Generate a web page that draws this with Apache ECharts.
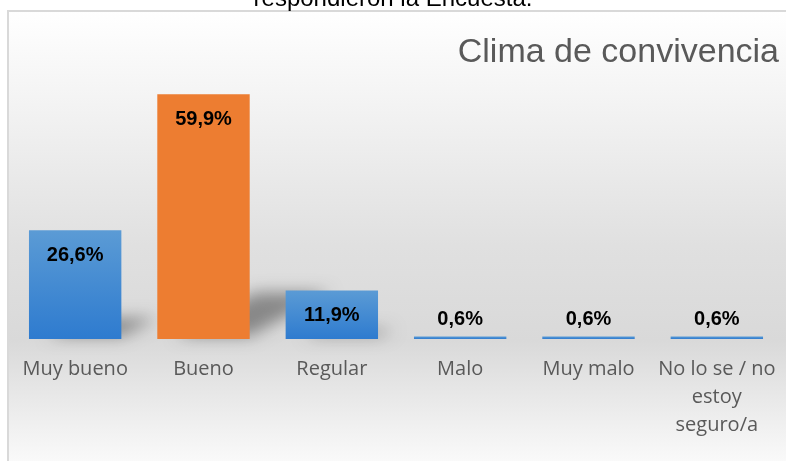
<!DOCTYPE html>
<html><head><meta charset="utf-8">
<script src="https://cdn.jsdelivr.net/npm/echarts@6/dist/echarts.min.js"></script>
<style>html,body{margin:0;padding:0;background:#fff}#c{width:786px;height:461px}</style>
</head><body><div id="c"></div>
<script>
const categories = ['Muy bueno', 'Bueno', 'Regular', 'Malo', 'Muy malo', 'No lo se / no\nestoy\nseguro/a'];
const values = [26.6, 59.9, 11.9, 0.6, 0.6, 0.6];
const labels = ['26,6%', '59,9%', '11,9%', '0,6%', '0,6%', '0,6%'];
const highlightIndex = 1;
const titleText = 'Clima de convivencia';
const topText = 'respondieron la Encuesta.';

const chart = echarts.init(document.getElementById('c'), null, {renderer: 'canvas'});
const blueGrad = new echarts.graphic.LinearGradient(0, 0, 0, 1, [
  {offset: 0, color: '#5b9bd5'}, {offset: 1, color: '#2e7bcf'}]);
const OFF = 3000;

chart.setOption({
  animation: false,
  graphic: [
    {type: 'rect', z: -10, silent: true,
     shape: {x: 8, y: 11, width: 800, height: 470},
     style: {stroke: '#d9d9d9', lineWidth: 2,
       fill: new echarts.graphic.LinearGradient(0, 0, 0, 1, [
         {offset: 0, color: '#ffffff'},
         {offset: 0.2, color: '#f3f3f3'},
         {offset: 0.5, color: '#e0e0e0'},
         {offset: 0.7, color: '#d9d9d9'},
         {offset: 0.85, color: '#ececec'},
         {offset: 1, color: '#ffffff'}])}},
    {type: 'text', left: 'center', top: -13, silent: true,
     style: {text: topText, font: '24px "Liberation Sans"', fill: '#000'}},
    {type: 'text', right: 7, top: 36, silent: true,
     style: {text: titleText, font: '34px "Liberation Sans"', fill: '#595959'}}
  ],
  grid: {left: 11, right: 5, top: 53, bottom: 122},
  xAxis: {
    type: 'category', data: categories,
    axisLine: {show: false}, axisTick: {show: false},
    axisLabel: {color: '#595959', fontFamily: 'Open Sans', fontSize: 20, lineHeight: 28, margin: 16, interval: 0}
  },
  yAxis: {type: 'value', min: 0, max: 70, show: false, splitLine: {show: false}},
  series: [
    {type: 'custom', z: 1, silent: true, clip: false,
     renderItem: function (params, api) {
       const v = api.value(1);
       const base = api.coord([api.value(0), 0]);
       const top = api.coord([api.value(0), v]);
       const h = base[1] - top[1];
       if (h < 10) return;
       const bw = api.size([1, 0])[0] * 0.72;
       const x0 = base[0] - bw / 2 - OFF, x1 = base[0] + bw / 2 - OFF;
       const dx = h * 0.33, dy = h * 0.19;
       return {type: 'polygon', shape: {points: [
         [x0 + 18, base[1] - 3], [x1, base[1] - 3], [x1 + dx, base[1] - dy], [x0 + 18 + dx, base[1] - dy]]},
         style: {fill: '#000', shadowBlur: 16, shadowOffsetX: OFF, shadowColor: 'rgba(0,0,0,0.38)'}};
     },
     data: values.map((v, i) => [i, v])},
    {type: 'bar', z: 2, barWidth: '72%',
     data: values.map((v, i) => ({
       value: v,
       itemStyle: {color: i === highlightIndex ? '#ed7d31' : blueGrad},
       label: v > 5 ? {position: 'insideTop', distance: 15} : {position: 'top', distance: 7}
     })),
     label: {show: true, color: '#000', fontFamily: 'Liberation Sans', fontWeight: 'bold', fontSize: 20,
       formatter: p => labels[p.dataIndex]}}
  ]
});
</script></body></html>
